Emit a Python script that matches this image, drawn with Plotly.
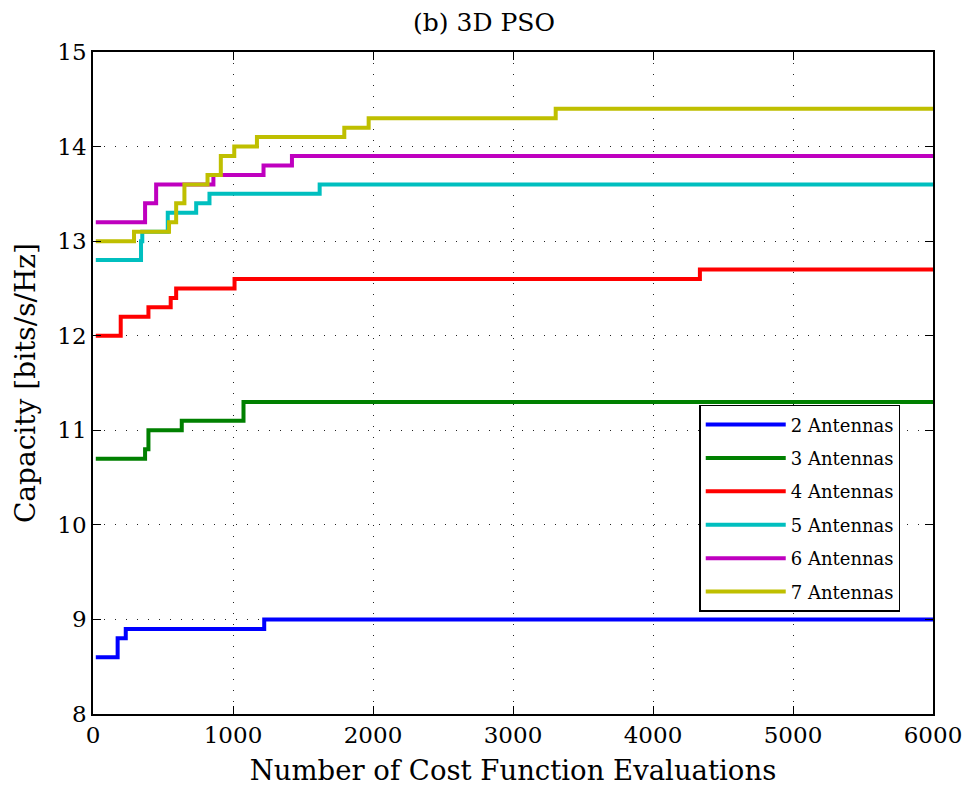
import plotly.graph_objects as go

# Best capacity found so far vs. number of cost-function evaluations (step curves)
labels = ["2 Antennas", "3 Antennas", "4 Antennas", "5 Antennas", "6 Antennas", "7 Antennas"]

evals_2 = [20, 176, 234, 1223, 6000]
cap_2 = [8.6, 8.8, 8.9, 9.0, 9.0]

evals_3 = [20, 372, 396, 634, 1075, 6000]
cap_3 = [10.7, 10.8, 11.0, 11.1, 11.3, 11.3]

evals_4 = [20, 198, 396, 555, 594, 1011, 4335, 6000]
cap_4 = [12.0, 12.2, 12.3, 12.4, 12.5, 12.6, 12.7, 12.7]

evals_5 = [20, 343, 352, 534, 737, 832, 1619, 6000]
cap_5 = [12.8, 13.0, 13.1, 13.3, 13.4, 13.5, 13.6, 13.6]

evals_6 = [20, 372, 451, 860, 1218, 1421, 6000]
cap_6 = [13.2, 13.4, 13.6, 13.7, 13.8, 13.9, 13.9]

evals_7 = [20, 293, 543, 594, 653, 818, 913, 1009, 1171, 1795, 1969, 3305, 6000]
cap_7 = [13.0, 13.1, 13.2, 13.4, 13.6, 13.7, 13.9, 14.0, 14.1, 14.2, 14.3, 14.4, 14.4]

x_ticks = [0, 1000, 2000, 3000, 4000, 5000, 6000]
y_ticks = [8, 9, 10, 11, 12, 13, 14, 15]

series = [
    (evals_2, cap_2, "#0000ff"),
    (evals_3, cap_3, "#008000"),
    (evals_4, cap_4, "#ff0000"),
    (evals_5, cap_5, "#00bfbf"),
    (evals_6, cap_6, "#bf00bf"),
    (evals_7, cap_7, "#bfbf00"),
]

fig = go.Figure()
for name, (xs, ys, color) in zip(labels, series):
    fig.add_trace(go.Scatter(
        x=xs, y=ys, mode="lines", name=name, legendgroup=name,
        line=dict(color=color, width=4, shape="hv"),
    ))

font_family = "DejaVu Serif"

axis_common = dict(
    showline=True, linecolor="black", linewidth=1.5, mirror="ticks",
    ticks="inside", ticklen=8, tickcolor="black", tickwidth=1,
    showgrid=True, gridcolor="#222222", gridwidth=1.2, griddash="1px,10px",
    zeroline=False, automargin=False,
    tickfont=dict(family=font_family, size=23, color="black"),
)

fig.update_layout(
    width=968, height=791,
    paper_bgcolor="white", plot_bgcolor="white",
    margin=dict(l=93, r=35, t=52, b=77),
    title=dict(text="(b) 3D PSO", x=0.5, xanchor="center", y=0.972, yanchor="middle",
               font=dict(family=font_family, size=25, color="black")),
    xaxis=dict(range=[0, 6000], tickvals=x_ticks,
               title=dict(text="Number of Cost Function Evaluations", standoff=13,
                          font=dict(family=font_family, size=27.5, color="black")),
               **axis_common),
    yaxis=dict(range=[8, 15], tickvals=y_ticks,
               title=dict(text="Capacity [bits/s/Hz]", standoff=14,
                          font=dict(family=font_family, size=28, color="black")),
               **axis_common),
    legend=dict(x=0.961, xanchor="right", y=0.467, yanchor="top",
                bgcolor="white", bordercolor="black", borderwidth=1.5,
                itemwidth=80, tracegroupgap=7,
                font=dict(family=font_family, size=18, color="black")),
    showlegend=True,
)

fig.write_html("out.html")
